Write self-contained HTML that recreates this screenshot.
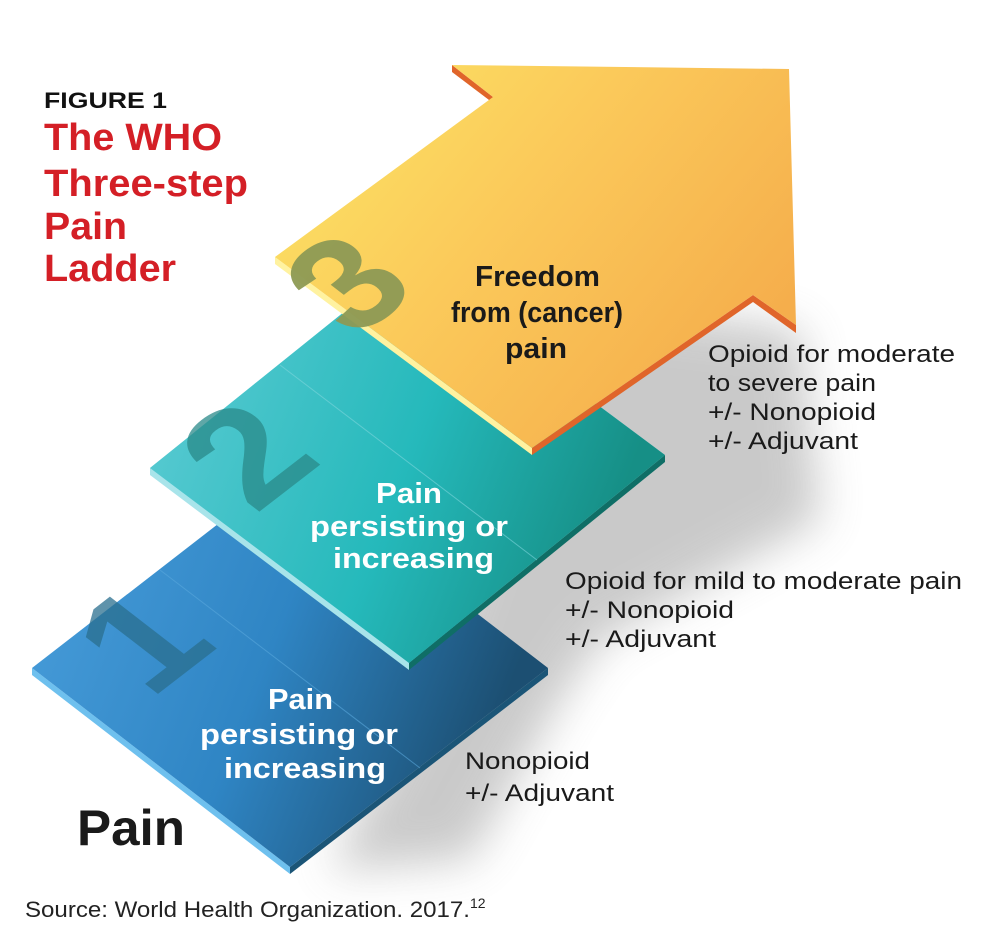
<!DOCTYPE html>
<html><head><meta charset="utf-8"><style>
html,body{margin:0;padding:0;background:#fff}
svg{display:block}
text{font-family:"Liberation Sans",Arial,sans-serif}
</style></head><body>
<svg width="1000" height="935" viewBox="0 0 1000 935" xmlns="http://www.w3.org/2000/svg">
<defs>
<linearGradient id="gb" x1="0" y1="0" x2="1" y2="0.3">
<stop offset="0" stop-color="#4a9fdc"/><stop offset="0.55" stop-color="#2f85c4"/><stop offset="1" stop-color="#1c4f72"/></linearGradient>
<linearGradient id="gt" x1="0" y1="0" x2="1" y2="0.3">
<stop offset="0" stop-color="#62cdd6"/><stop offset="0.6" stop-color="#25b9bb"/><stop offset="1" stop-color="#168f86"/></linearGradient>
<linearGradient id="gy" x1="0" y1="0" x2="1" y2="0.6">
<stop offset="0" stop-color="#fbe766"/><stop offset="0.5" stop-color="#fbc95a"/><stop offset="1" stop-color="#f5ae4c"/></linearGradient>
<filter id="bl" x="-30%" y="-30%" width="160%" height="160%"><feGaussianBlur stdDeviation="22"/></filter>
</defs>

<polygon points="560,300 800,330 820,520 600,640 560,700 470,860 330,870 420,700" fill="#8a8a8a" opacity="0.45" filter="url(#bl)"/>

<polygon points="32,668 290,867 290,874 32,675" fill="#6ec0ee"/>
<polygon points="290,867 548,668 548,675 290,874" fill="#1b5577"/>
<polygon points="32,668 289,469 548,668 290,867" fill="url(#gb)"/>
<line x1="160" y1="570" x2="420" y2="768" stroke="#5aa8dc" stroke-width="1" opacity="0.6"/>
<text transform="matrix(0.79,-0.61,0.79,0.61,150,700)" font-size="160" font-weight="bold" fill="#2a6f8f" opacity="0.75">1</text>

<polygon points="150,468 406,262 665,455 409,663 409,670 150,475" fill="#a8e4ea"/>
<polygon points="409,663 665,455 665,462 409,670" fill="#0f6e66"/>
<polygon points="150,468 406,262 665,455 409,663" fill="url(#gt)"/>
<line x1="280" y1="365" x2="537" y2="560" stroke="#7fd6dc" stroke-width="1" opacity="0.6"/>
<text transform="matrix(0.79,-0.61,0.79,0.61,255,515)" font-size="160" font-weight="bold" fill="#2a8a8a" opacity="0.75">2</text>

<polygon points="275,257 532,448 532,455 275,264" fill="#fff2a0"/>
<polygon points="532,448 753,295 796,325 796,333 753,302 532,455" fill="#e0652a"/>
<polygon points="452,65 493,97 493,103 452,72" fill="#e0652a"/>
<polygon points="452,65 789,69 796,325 753,295 532,448 275,257 493,97" fill="url(#gy)"/>
<text transform="matrix(0.79,-0.61,0.79,0.61,355,340)" font-size="150" font-weight="bold" fill="#8e9a55" opacity="0.95">3</text>

<g font-weight="bold" font-size="29">
<text x="475" y="286" fill="#1a1a1a" textLength="125" lengthAdjust="spacingAndGlyphs">Freedom</text>
<text x="451" y="322" fill="#1a1a1a" textLength="172" lengthAdjust="spacingAndGlyphs">from (cancer)</text>
<text x="505" y="358" fill="#1a1a1a" textLength="62" lengthAdjust="spacingAndGlyphs">pain</text>
<text x="376" y="503" fill="#fff" textLength="66" lengthAdjust="spacingAndGlyphs">Pain</text>
<text x="310" y="536" fill="#fff" textLength="198" lengthAdjust="spacingAndGlyphs">persisting or</text>
<text x="333" y="568" fill="#fff" textLength="161" lengthAdjust="spacingAndGlyphs">increasing</text>
<text x="268" y="709" fill="#fff" textLength="65" lengthAdjust="spacingAndGlyphs">Pain</text>
<text x="200" y="744" fill="#fff" textLength="198" lengthAdjust="spacingAndGlyphs">persisting or</text>
<text x="224" y="778" fill="#fff" textLength="162" lengthAdjust="spacingAndGlyphs">increasing</text>
</g>

<g font-size="24" fill="#1a1a1a">
<text x="708" y="362" textLength="247" lengthAdjust="spacingAndGlyphs">Opioid for moderate</text>
<text x="708" y="391" textLength="168" lengthAdjust="spacingAndGlyphs">to severe pain</text>
<text x="708" y="420" textLength="168" lengthAdjust="spacingAndGlyphs">+/- Nonopioid</text>
<text x="708" y="449" textLength="150" lengthAdjust="spacingAndGlyphs">+/- Adjuvant</text>
<text x="565" y="589" textLength="397" lengthAdjust="spacingAndGlyphs">Opioid for mild to moderate pain</text>
<text x="565" y="618" textLength="169" lengthAdjust="spacingAndGlyphs">+/- Nonopioid</text>
<text x="565" y="647" textLength="151" lengthAdjust="spacingAndGlyphs">+/- Adjuvant</text>
<text x="465" y="769" textLength="125" lengthAdjust="spacingAndGlyphs">Nonopioid</text>
<text x="465" y="801" textLength="149" lengthAdjust="spacingAndGlyphs">+/- Adjuvant</text>
</g>

<text x="44" y="108" font-size="22" font-weight="bold" fill="#111" textLength="123" lengthAdjust="spacingAndGlyphs">FIGURE 1</text>
<g font-size="38" font-weight="bold" fill="#d41f26">
<text x="44" y="150" textLength="178" lengthAdjust="spacingAndGlyphs">The WHO</text>
<text x="44" y="196" textLength="204" lengthAdjust="spacingAndGlyphs">Three-step</text>
<text x="44" y="239" textLength="83" lengthAdjust="spacingAndGlyphs">Pain</text>
<text x="44" y="281" textLength="132" lengthAdjust="spacingAndGlyphs">Ladder</text>
</g>
<text x="77" y="845" font-size="50" font-weight="bold" fill="#1a1a1a" textLength="108" lengthAdjust="spacingAndGlyphs">Pain</text>
<text x="25" y="917" font-size="22" fill="#222"><tspan textLength="445" lengthAdjust="spacingAndGlyphs">Source: World Health Organization. 2017.</tspan><tspan font-size="14" dy="-9">12</tspan></text>
</svg>
</body></html>
